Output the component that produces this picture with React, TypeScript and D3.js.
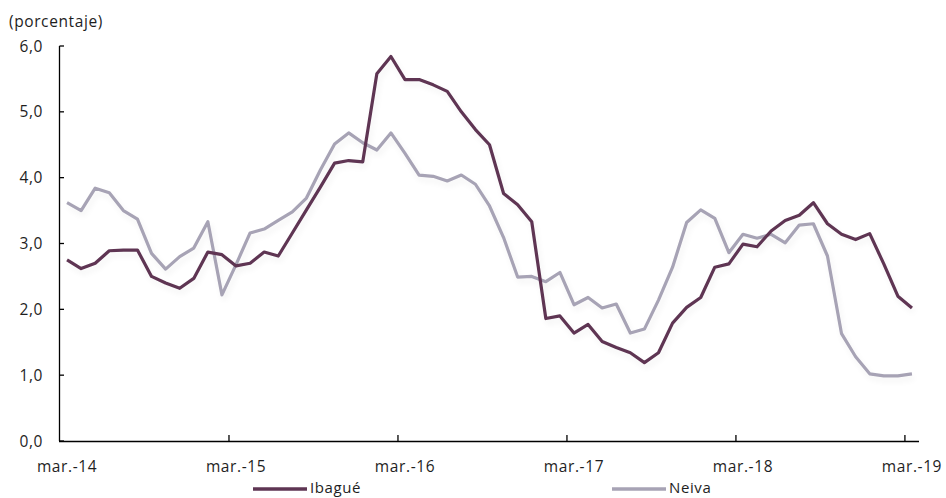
import React from "react";
import * as d3 from "d3";

const months: string[] = d3
  .timeMonth.range(new Date(2014, 2, 1), new Date(2019, 3, 1))
  .map((d) => d3.timeFormat("%Y-%m")(d));

const ibague: number[] = [
  2.75, 2.62, 2.70, 2.89, 2.90, 2.90, 2.50, 2.40, 2.32, 2.47, 2.87, 2.83,
  2.66, 2.70, 2.87, 2.81, 3.16, 3.51, 3.86, 4.22, 4.26, 4.24, 5.58, 5.84,
  5.49, 5.49, 5.41, 5.31, 5.00, 4.73, 4.50, 3.76, 3.59, 3.33, 1.86, 1.90,
  1.64, 1.77, 1.51, 1.42, 1.34, 1.19, 1.34, 1.79, 2.03, 2.18, 2.64, 2.69,
  2.99, 2.95, 3.19, 3.35, 3.43, 3.62, 3.30, 3.14, 3.06, 3.15, 2.69, 2.20,
  2.02,
];

const neiva: number[] = [
  3.62, 3.50, 3.84, 3.77, 3.50, 3.37, 2.85, 2.61, 2.80, 2.93, 3.33, 2.22,
  2.68, 3.16, 3.22, 3.35, 3.48, 3.69, 4.12, 4.51, 4.68, 4.53, 4.42, 4.68,
  4.37, 4.04, 4.02, 3.95, 4.04, 3.90, 3.57, 3.09, 2.49, 2.50, 2.42, 2.56,
  2.07, 2.18, 2.02, 2.08, 1.64, 1.70, 2.14, 2.64, 3.32, 3.51, 3.38, 2.86,
  3.14, 3.08, 3.14, 3.01, 3.28, 3.30, 2.81, 1.63, 1.28, 1.02, 0.99, 0.99,
  1.02,
];

const xTickLabels: string[] = ["mar.-14", "mar.-15", "mar.-16", "mar.-17", "mar.-18", "mar.-19"];
const yTicks: number[] = [0, 1, 2, 3, 4, 5, 6];

const W = 946;
const H = 498;
const FONT = "'Open Sans', Lato, sans-serif";
const C_IB = "#5e3553";
const C_NE = "#a7a3b5";
const TXT = "#1e1e1e";

export default function App() {
  const x = d3.scaleBand<string>().domain(months).range([60, 919]).paddingInner(0).paddingOuter(0);
  const y = d3.scaleLinear().domain([0, 6]).range([441, 46]);
  const cx = (i: number) => (x(months[i]) as number) + x.bandwidth() / 2;

  const line = d3
    .line<number>()
    .x((_, i) => cx(i))
    .y((v) => y(v));

  const tickIdx = xTickLabels.map((_, k) => k * 12);

  return (
    <svg
      width={W}
      height={H}
      style={{ position: "absolute", left: 0, top: 0, background: "#fff" }}
      fontFamily={FONT}
      letterSpacing={0.6}
    >
      <defs>
        <filter id="sh" x="-5%" y="-5%" width="110%" height="120%">
          <feGaussianBlur in="SourceAlpha" stdDeviation="3" />
          <feOffset dx="2" dy="4" result="b" />
          <feComponentTransfer>
            <feFuncA type="linear" slope="0.06" />
          </feComponentTransfer>
          <feMerge>
            <feMergeNode />
            <feMergeNode in="SourceGraphic" />
          </feMerge>
        </filter>
      </defs>
      <rect width={W} height={H} fill="#fff" />
      <text x={9} y={27} fontSize={15.5} fill={TXT}>(porcentaje)</text>

      {/* y axis */}
      <line x1={59.5} x2={59.5} y1={y(6)} y2={y(0)} stroke="#000" strokeWidth={1.3} />
      {yTicks.map((t) => (
        <g key={t}>
          <line x1={59.5} x2={64} y1={y(t)} y2={y(t)} stroke="#000" strokeWidth={1.3} />
          <text x={43} y={y(t) + 5.5} fontSize={15.5} textAnchor="end" fill={TXT}>
            {d3.format(".1f")(t).replace(".", ",")}
          </text>
        </g>
      ))}

      {/* x axis */}
      <line x1={59} x2={919} y1={441.5} y2={441.5} stroke="#000" strokeWidth={1.3} />
      {tickIdx.map((i, k) => (
        <g key={k}>
          {k > 0 && (
            <line
              x1={x(months[i]) as number}
              x2={x(months[i]) as number}
              y1={441.5}
              y2={435}
              stroke="#000"
              strokeWidth={1.3}
            />
          )}
          <text x={cx(i)} y={472} fontSize={15.5} textAnchor="middle" fill={TXT}>
            {xTickLabels[k]}
          </text>
        </g>
      ))}

      <g filter="url(#sh)">
        <path d={line(neiva) || ""} fill="none" stroke={C_NE} strokeWidth={3.2} strokeLinejoin="round" />
        <path d={line(ibague) || ""} fill="none" stroke={C_IB} strokeWidth={3.2} strokeLinejoin="round" />
      </g>

      {/* legend */}
      <line x1={253} x2={307} y1={489} y2={489} stroke={C_IB} strokeWidth={3.5} />
      <text x={310} y={493} fontSize={15} fill={TXT}>Ibagué</text>
      <line x1={612} x2={666} y1={489} y2={489} stroke={C_NE} strokeWidth={3.5} />
      <text x={669} y={493} fontSize={15} fill={TXT}>Neiva</text>
    </svg>
  );
}
